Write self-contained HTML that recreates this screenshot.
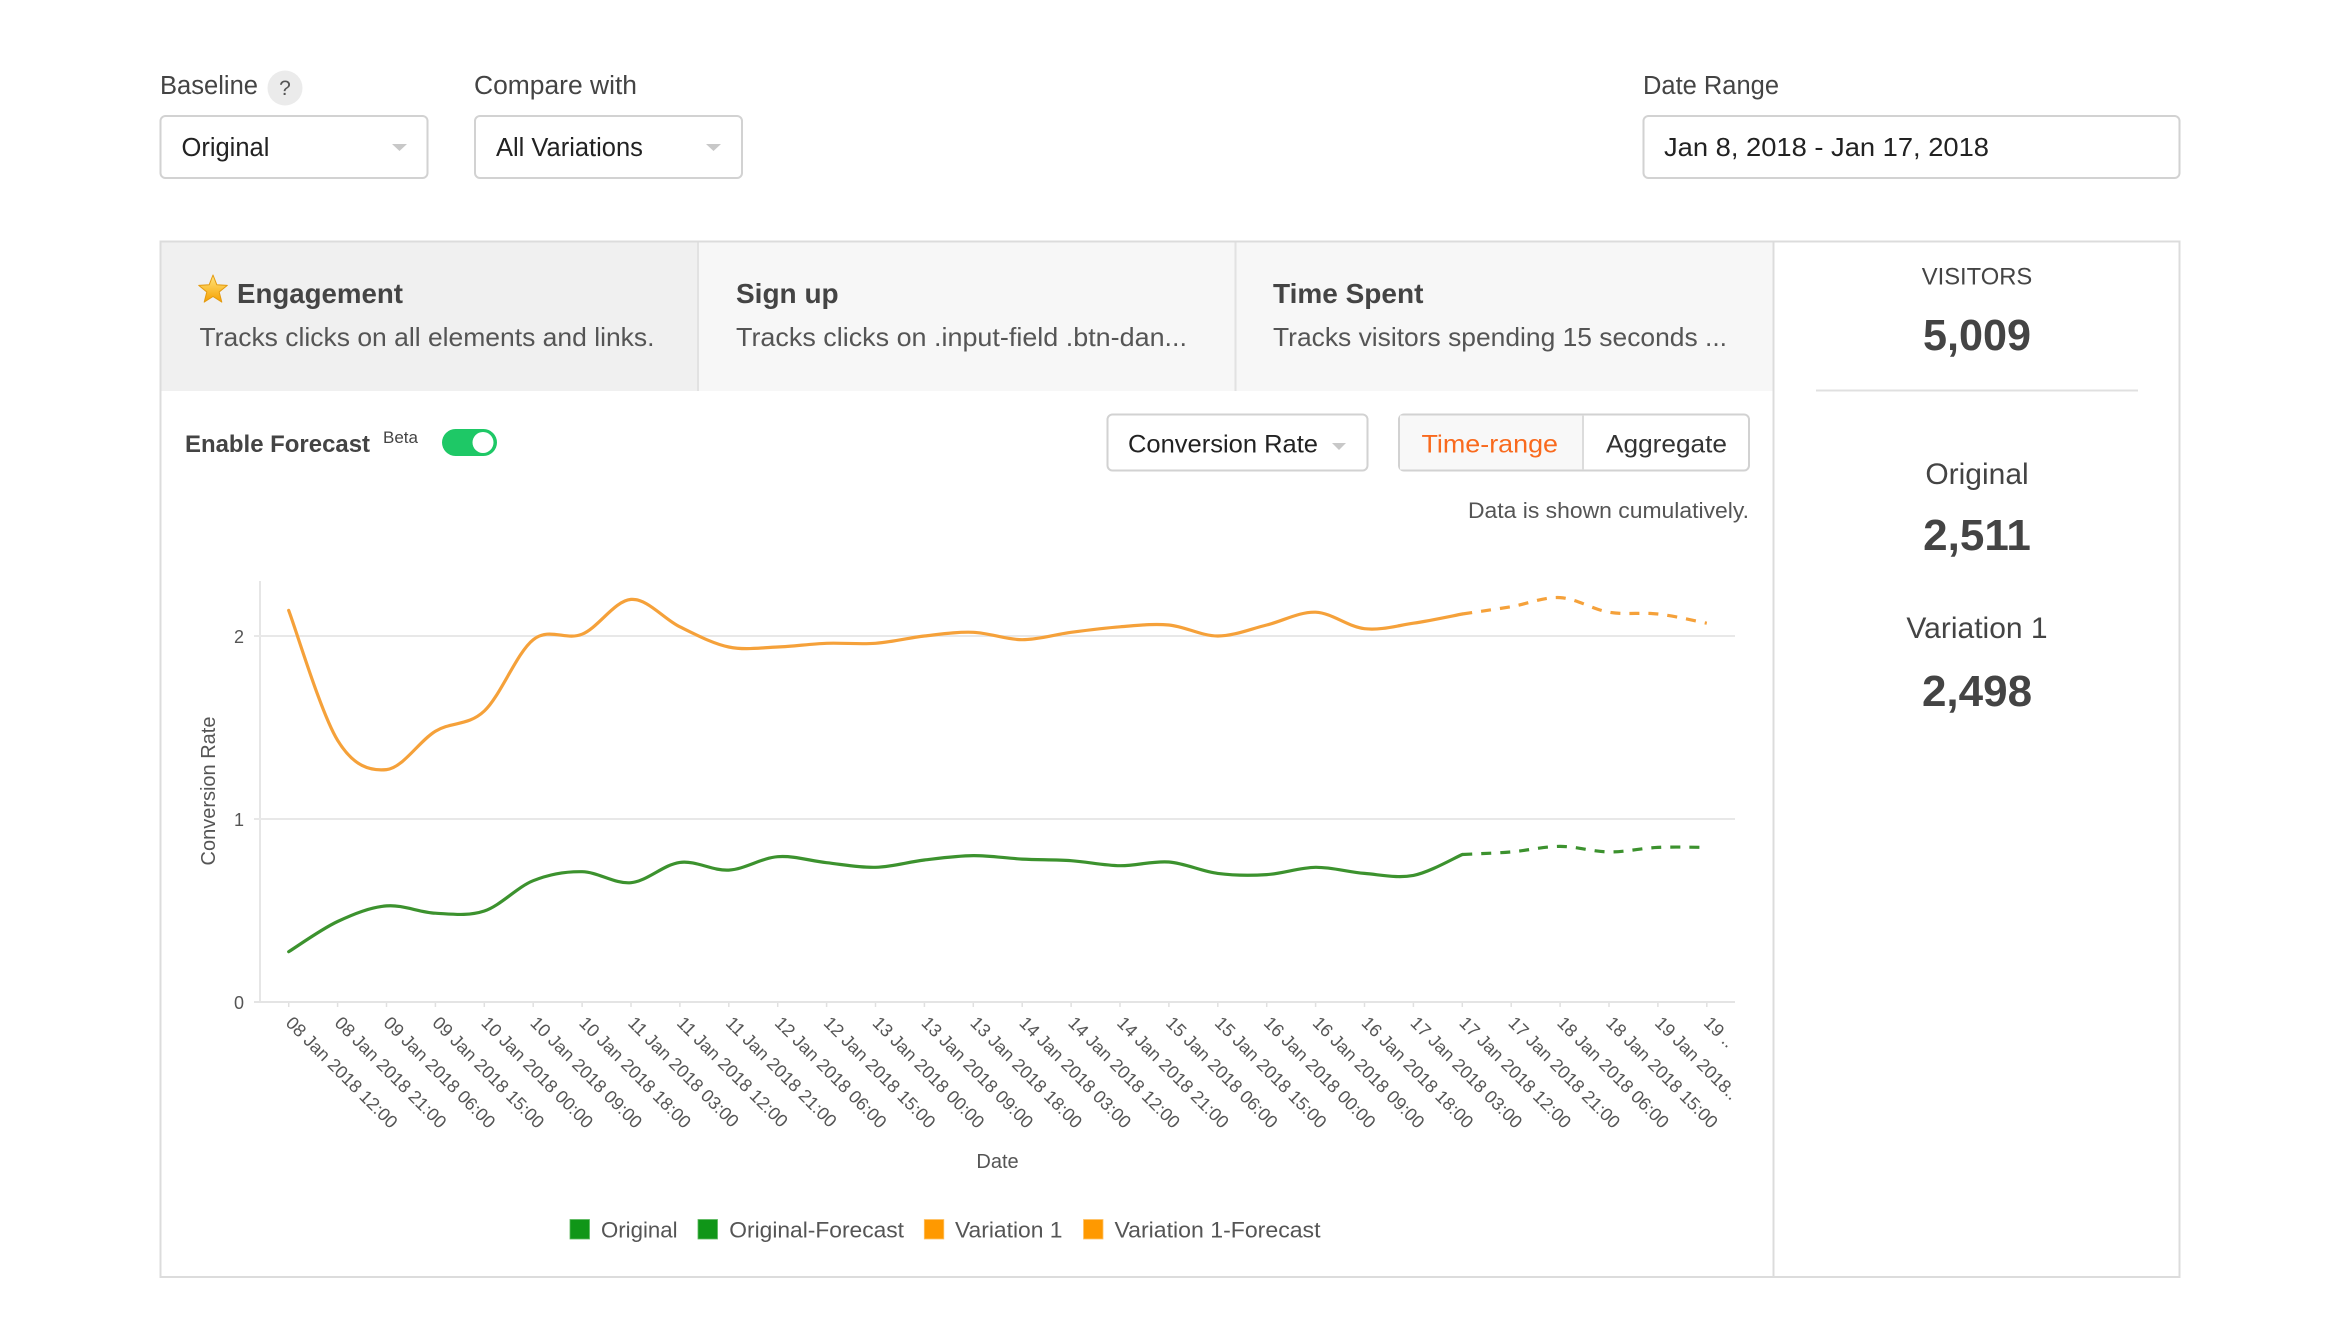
<!DOCTYPE html>
<html>
<head>
<meta charset="utf-8">
<style>
html,body{margin:0;padding:0;background:#fff;}
body{width:2340px;height:1338px;overflow:hidden;}
svg{display:block;font-family:"Liberation Sans",Arial,sans-serif;}
</style>
</head>
<body>
<svg width="2340" height="1338" viewBox="0 0 2340 1338" xmlns="http://www.w3.org/2000/svg">
  <defs>
    <linearGradient id="starg" x1="0" y1="0" x2="0" y2="1">
      <stop offset="0" stop-color="#ffe680"/>
      <stop offset="1" stop-color="#f6a000"/>
    </linearGradient>
  </defs>
  <rect x="0" y="0" width="2340" height="1338" fill="#fff"/>

  <!-- top controls -->
  <text x="160" y="94" font-size="25.5" fill="#444" textLength="98" lengthAdjust="spacingAndGlyphs">Baseline</text>
  <circle cx="285" cy="88" r="17.5" fill="#ebebeb"/>
  <text x="285" y="95" font-size="21" fill="#555" text-anchor="middle">?</text>
  <text x="474" y="94" font-size="25.5" fill="#444" textLength="163" lengthAdjust="spacingAndGlyphs">Compare with</text>
  <text x="1643" y="94" font-size="25.5" fill="#444" textLength="136" lengthAdjust="spacingAndGlyphs">Date Range</text>

  <rect x="160.5" y="116" width="267" height="62" rx="5" fill="#fff" stroke="#d2d2d2" stroke-width="2"/>
  <text x="181.5" y="156" font-size="25.5" fill="#222">Original</text>
  <polygon points="392,144 407,144 399.5,151" fill="#c8c8c8"/>

  <rect x="475" y="116" width="267" height="62" rx="5" fill="#fff" stroke="#d2d2d2" stroke-width="2"/>
  <text x="496" y="156" font-size="25.5" fill="#222">All Variations</text>
  <polygon points="706,144 721,144 713.5,151" fill="#c8c8c8"/>

  <rect x="1643.5" y="116" width="536" height="62" rx="5" fill="#fff" stroke="#d2d2d2" stroke-width="2"/>
  <text x="1664" y="156" font-size="26" fill="#222" textLength="325" lengthAdjust="spacingAndGlyphs">Jan 8, 2018 - Jan 17, 2018</text>

  <!-- tabs -->
  <rect x="161" y="242" width="537" height="149" fill="#f0f0f0"/>
  <rect x="698" y="242" width="1075" height="149" fill="#f7f7f7"/>
  <line x1="698" y1="242" x2="698" y2="391" stroke="#e2e2e2" stroke-width="2"/>
  <line x1="1235.5" y1="242" x2="1235.5" y2="391" stroke="#e2e2e2" stroke-width="2"/>

  <polygon points="213,275 216.8,284.7 227.3,285.4 219.2,292 221.8,302.1 213,296.5 204.2,302.1 206.8,292 198.7,285.4 209.2,284.7" fill="url(#starg)" stroke="#e39a10" stroke-width="1" stroke-linejoin="round"/>
  <text x="237" y="303" font-size="28" font-weight="bold" fill="#444" textLength="166" lengthAdjust="spacingAndGlyphs">Engagement</text>
  <text x="199.5" y="346" font-size="26" fill="#555" textLength="455" lengthAdjust="spacingAndGlyphs">Tracks clicks on all elements and links.</text>

  <text x="736" y="303" font-size="28" font-weight="bold" fill="#444">Sign up</text>
  <text x="736" y="346" font-size="26" fill="#555" textLength="451" lengthAdjust="spacingAndGlyphs">Tracks clicks on .input-field .btn-dan...</text>

  <text x="1273" y="303" font-size="28" font-weight="bold" fill="#444">Time Spent</text>
  <text x="1273" y="346" font-size="26" fill="#555" textLength="454" lengthAdjust="spacingAndGlyphs">Tracks visitors spending 15 seconds ...</text>

  <!-- card borders -->
  <rect x="160.5" y="241.5" width="2019" height="1035.5" fill="none" stroke="#dcdcdc" stroke-width="2"/>
  <line x1="1773.5" y1="241" x2="1773.5" y2="1277" stroke="#dcdcdc" stroke-width="2"/>

  <!-- forecast toggle -->
  <text x="185" y="452" font-size="24" font-weight="bold" fill="#444" textLength="185" lengthAdjust="spacingAndGlyphs">Enable Forecast</text>
  <text x="383" y="443" font-size="17" fill="#444">Beta</text>
  <rect x="442" y="429" width="55" height="27" rx="13.5" fill="#1ec866"/>
  <circle cx="483" cy="442.5" r="10.5" fill="#fff"/>

  <!-- conversion rate / time-range -->
  <rect x="1107.5" y="414.5" width="260" height="56" rx="5" fill="#fff" stroke="#d2d2d2" stroke-width="2"/>
  <text x="1128" y="452.5" font-size="25" fill="#222" textLength="190" lengthAdjust="spacingAndGlyphs">Conversion Rate</text>
  <polygon points="1332,443 1346,443 1339,450" fill="#c8c8c8"/>

  <rect x="1399" y="414.5" width="350" height="56" rx="5" fill="#fff" stroke="#d2d2d2" stroke-width="2"/>
  <path d="M1400,415.5 H1583 V469.5 H1400 Z" fill="#f8f8f8"/>
  <line x1="1583" y1="415" x2="1583" y2="470" stroke="#dcdcdc" stroke-width="2"/>
  <text x="1421.5" y="452.5" font-size="25" fill="#f96a1e" textLength="136.5" lengthAdjust="spacingAndGlyphs">Time-range</text>
  <text x="1606" y="452.5" font-size="25" fill="#333" textLength="121" lengthAdjust="spacingAndGlyphs">Aggregate</text>

  <text x="1468" y="518" font-size="22" fill="#555" textLength="281" lengthAdjust="spacingAndGlyphs">Data is shown cumulatively.</text>

  <!-- stats -->
  <text x="1977" y="284.5" font-size="24" fill="#444" text-anchor="middle" textLength="110.5" lengthAdjust="spacingAndGlyphs">VISITORS</text>
  <text x="1977" y="350" font-size="44" font-weight="bold" fill="#444" text-anchor="middle" textLength="108" lengthAdjust="spacingAndGlyphs">5,009</text>
  <line x1="1816" y1="390.5" x2="2138" y2="390.5" stroke="#e0e0e0" stroke-width="2"/>
  <text x="1977" y="484" font-size="30" fill="#444" text-anchor="middle">Original</text>
  <text x="1977" y="550" font-size="44" font-weight="bold" fill="#444" text-anchor="middle">2,511</text>
  <text x="1977" y="638" font-size="30" fill="#444" text-anchor="middle">Variation 1</text>
  <text x="1977" y="706" font-size="44" font-weight="bold" fill="#444" text-anchor="middle">2,498</text>

  <!-- chart axes -->
  <line x1="260" y1="581" x2="260" y2="1003" stroke="#e6e6e6" stroke-width="2"/>
  <line x1="254" y1="636" x2="1735" y2="636" stroke="#e8e8e8" stroke-width="2"/>
  <line x1="254" y1="819" x2="1735" y2="819" stroke="#e8e8e8" stroke-width="2"/>
  <line x1="254" y1="1002" x2="1735" y2="1002" stroke="#e4e4e4" stroke-width="2"/>
  <text x="244" y="643" font-size="18" fill="#555" text-anchor="end">2</text>
  <text x="244" y="826" font-size="18" fill="#555" text-anchor="end">1</text>
  <text x="244" y="1009" font-size="18" fill="#555" text-anchor="end">0</text>
  <text x="215" y="791" font-size="20" fill="#555" text-anchor="middle" transform="rotate(-90 215 791)">Conversion Rate</text>

  <g id="ticks" stroke="#e0e0e0" stroke-width="1.5">
    <line x1="288.7" y1="1003" x2="288.7" y2="1007"/><line x1="337.6" y1="1003" x2="337.6" y2="1007"/>
    <line x1="386.5" y1="1003" x2="386.5" y2="1007"/><line x1="435.4" y1="1003" x2="435.4" y2="1007"/>
    <line x1="484.3" y1="1003" x2="484.3" y2="1007"/><line x1="533.2" y1="1003" x2="533.2" y2="1007"/>
    <line x1="582.1" y1="1003" x2="582.1" y2="1007"/><line x1="631" y1="1003" x2="631" y2="1007"/>
    <line x1="679.9" y1="1003" x2="679.9" y2="1007"/><line x1="728.8" y1="1003" x2="728.8" y2="1007"/>
    <line x1="777.7" y1="1003" x2="777.7" y2="1007"/><line x1="826.6" y1="1003" x2="826.6" y2="1007"/>
    <line x1="875.5" y1="1003" x2="875.5" y2="1007"/><line x1="924.4" y1="1003" x2="924.4" y2="1007"/>
    <line x1="973.3" y1="1003" x2="973.3" y2="1007"/><line x1="1022.2" y1="1003" x2="1022.2" y2="1007"/>
    <line x1="1071.1" y1="1003" x2="1071.1" y2="1007"/><line x1="1120" y1="1003" x2="1120" y2="1007"/>
    <line x1="1168.9" y1="1003" x2="1168.9" y2="1007"/><line x1="1217.8" y1="1003" x2="1217.8" y2="1007"/>
    <line x1="1266.7" y1="1003" x2="1266.7" y2="1007"/><line x1="1315.6" y1="1003" x2="1315.6" y2="1007"/>
    <line x1="1364.5" y1="1003" x2="1364.5" y2="1007"/><line x1="1413.4" y1="1003" x2="1413.4" y2="1007"/>
    <line x1="1462.3" y1="1003" x2="1462.3" y2="1007"/><line x1="1511.2" y1="1003" x2="1511.2" y2="1007"/>
    <line x1="1560.1" y1="1003" x2="1560.1" y2="1007"/><line x1="1609" y1="1003" x2="1609" y2="1007"/>
    <line x1="1657.9" y1="1003" x2="1657.9" y2="1007"/><line x1="1706.8" y1="1003" x2="1706.8" y2="1007"/>
  </g>

  <g font-size="18" fill="#555">
    <text x="284.7" y="1024" transform="rotate(45 284.7 1024)">08 Jan 2018 12:00</text>
    <text x="333.6" y="1024" transform="rotate(45 333.6 1024)">08 Jan 2018 21:00</text>
    <text x="382.5" y="1024" transform="rotate(45 382.5 1024)">09 Jan 2018 06:00</text>
    <text x="431.4" y="1024" transform="rotate(45 431.4 1024)">09 Jan 2018 15:00</text>
    <text x="480.3" y="1024" transform="rotate(45 480.3 1024)">10 Jan 2018 00:00</text>
    <text x="529.2" y="1024" transform="rotate(45 529.2 1024)">10 Jan 2018 09:00</text>
    <text x="578.1" y="1024" transform="rotate(45 578.1 1024)">10 Jan 2018 18:00</text>
    <text x="627" y="1024" transform="rotate(45 627 1024)">11 Jan 2018 03:00</text>
    <text x="675.9" y="1024" transform="rotate(45 675.9 1024)">11 Jan 2018 12:00</text>
    <text x="724.8" y="1024" transform="rotate(45 724.8 1024)">11 Jan 2018 21:00</text>
    <text x="773.7" y="1024" transform="rotate(45 773.7 1024)">12 Jan 2018 06:00</text>
    <text x="822.6" y="1024" transform="rotate(45 822.6 1024)">12 Jan 2018 15:00</text>
    <text x="871.5" y="1024" transform="rotate(45 871.5 1024)">13 Jan 2018 00:00</text>
    <text x="920.4" y="1024" transform="rotate(45 920.4 1024)">13 Jan 2018 09:00</text>
    <text x="969.3" y="1024" transform="rotate(45 969.3 1024)">13 Jan 2018 18:00</text>
    <text x="1018.2" y="1024" transform="rotate(45 1018.2 1024)">14 Jan 2018 03:00</text>
    <text x="1067.1" y="1024" transform="rotate(45 1067.1 1024)">14 Jan 2018 12:00</text>
    <text x="1116" y="1024" transform="rotate(45 1116 1024)">14 Jan 2018 21:00</text>
    <text x="1164.9" y="1024" transform="rotate(45 1164.9 1024)">15 Jan 2018 06:00</text>
    <text x="1213.8" y="1024" transform="rotate(45 1213.8 1024)">15 Jan 2018 15:00</text>
    <text x="1262.7" y="1024" transform="rotate(45 1262.7 1024)">16 Jan 2018 00:00</text>
    <text x="1311.6" y="1024" transform="rotate(45 1311.6 1024)">16 Jan 2018 09:00</text>
    <text x="1360.5" y="1024" transform="rotate(45 1360.5 1024)">16 Jan 2018 18:00</text>
    <text x="1409.4" y="1024" transform="rotate(45 1409.4 1024)">17 Jan 2018 03:00</text>
    <text x="1458.3" y="1024" transform="rotate(45 1458.3 1024)">17 Jan 2018 12:00</text>
    <text x="1507.2" y="1024" transform="rotate(45 1507.2 1024)">17 Jan 2018 21:00</text>
    <text x="1556.1" y="1024" transform="rotate(45 1556.1 1024)">18 Jan 2018 06:00</text>
    <text x="1605" y="1024" transform="rotate(45 1605 1024)">18 Jan 2018 15:00</text>
    <text x="1653.9" y="1024" transform="rotate(45 1653.9 1024)">19 Jan 2018..</text>
    <text x="1702.8" y="1024" transform="rotate(45 1702.8 1024)">19 ..</text>
  </g>

  <text x="997.5" y="1168" font-size="20" fill="#555" text-anchor="middle">Date</text>

  <!-- series -->
  <g fill="none" stroke-width="3.2" stroke-linejoin="round">
    <path id="oSolid" stroke="#f5a13a" stroke-linecap="round" d="M288.7,610.4 L337.6,740.3 L386.5,769.6 L435.4,731.2 L484.3,711 L533.2,639.7 L582.1,634.2 L631,599.4 L679.9,626.8 L728.8,647 L777.7,647 L826.6,643.3 L875.5,643.3 L924.4,636 L973.3,632.3 L1022.2,639.7 L1071.1,632.3 L1120,626.8 L1168.9,625 L1217.8,636 L1266.7,625 L1315.6,612.2 L1364.5,628.7 L1413.4,623.2 L1462.3,614"/>
    <path id="oFc" stroke="#f5a13a" stroke-dasharray="10 9" d="M1462.3,614 L1511.2,606.7 L1560.1,597.6 L1609,612.2 L1657.9,614 L1706.8,623.2"/>
    <path id="gSolid" stroke="#3c922e" stroke-linecap="round" d="M288.7,951.7 L337.6,921.5 L386.5,905.9 L435.4,913.2 L484.3,911 L533.2,880.7 L582.1,871.7 L631,882.7 L679.9,862.4 L728.8,870.1 L777.7,856.7 L826.6,862.7 L875.5,867.3 L924.4,860 L973.3,855.6 L1022.2,859.1 L1071.1,860.7 L1120,865.7 L1168.9,862 L1217.8,873.4 L1266.7,874.6 L1315.6,867.3 L1364.5,873.4 L1413.4,875.4 L1462.3,854.5"/>
    <path id="gFc" stroke="#3c922e" stroke-dasharray="10 9" d="M1462.3,854.5 L1511.2,851.9 L1560.1,846.4 L1609,851.9 L1657.9,847.4 L1706.8,847.4"/>
  </g>

  <!-- legend -->
  <rect x="570" y="1219.5" width="19.5" height="19.5" fill="#109618" stroke="#5cb85f" stroke-width="0.8"/>
  <text x="601" y="1237.5" font-size="22.5" fill="#555" textLength="76.5" lengthAdjust="spacingAndGlyphs">Original</text>
  <rect x="698" y="1219.5" width="19.5" height="19.5" fill="#109618" stroke="#5cb85f" stroke-width="0.8"/>
  <text x="729.3" y="1237.5" font-size="22.5" fill="#555" textLength="174.7" lengthAdjust="spacingAndGlyphs">Original-Forecast</text>
  <rect x="924.3" y="1219.5" width="19.5" height="19.5" fill="#ff9900" stroke="#ffc266" stroke-width="0.8"/>
  <text x="955" y="1237.5" font-size="22.5" fill="#555" textLength="107.5" lengthAdjust="spacingAndGlyphs">Variation 1</text>
  <rect x="1083.5" y="1219.5" width="19.5" height="19.5" fill="#ff9900" stroke="#ffc266" stroke-width="0.8"/>
  <text x="1114.5" y="1237.5" font-size="22.5" fill="#555" textLength="206" lengthAdjust="spacingAndGlyphs">Variation 1-Forecast</text>
</svg>
<script>
(function(){
  function parse(d){
    var nums=d.match(/-?[\d.]+/g).map(Number),pts=[];
    for(var i=0;i<nums.length;i+=2)pts.push([nums[i],nums[i+1]]);
    return pts;
  }
  function smooth(pts){
    var d='M'+pts[0][0]+','+pts[0][1];
    for(var i=0;i<pts.length-1;i++){
      var p0=pts[i-1]||pts[i],p1=pts[i],p2=pts[i+1],p3=pts[i+2]||p2;
      var c1x=p1[0]+(p2[0]-p0[0])/6,c1y=p1[1]+(p2[1]-p0[1])/6;
      var c2x=p2[0]-(p3[0]-p1[0])/6,c2y=p2[1]-(p3[1]-p1[1])/6;
      d+=' C'+c1x.toFixed(2)+','+c1y.toFixed(2)+' '+c2x.toFixed(2)+','+c2y.toFixed(2)+' '+p2[0]+','+p2[1];
    }
    return d;
  }
  ['oSolid','oFc','gSolid','gFc'].forEach(function(id){
    var el=document.getElementById(id);
    if(el){el.setAttribute('d',smooth(parse(el.getAttribute('d'))));}
  });
})();
</script>
</body>
</html>
